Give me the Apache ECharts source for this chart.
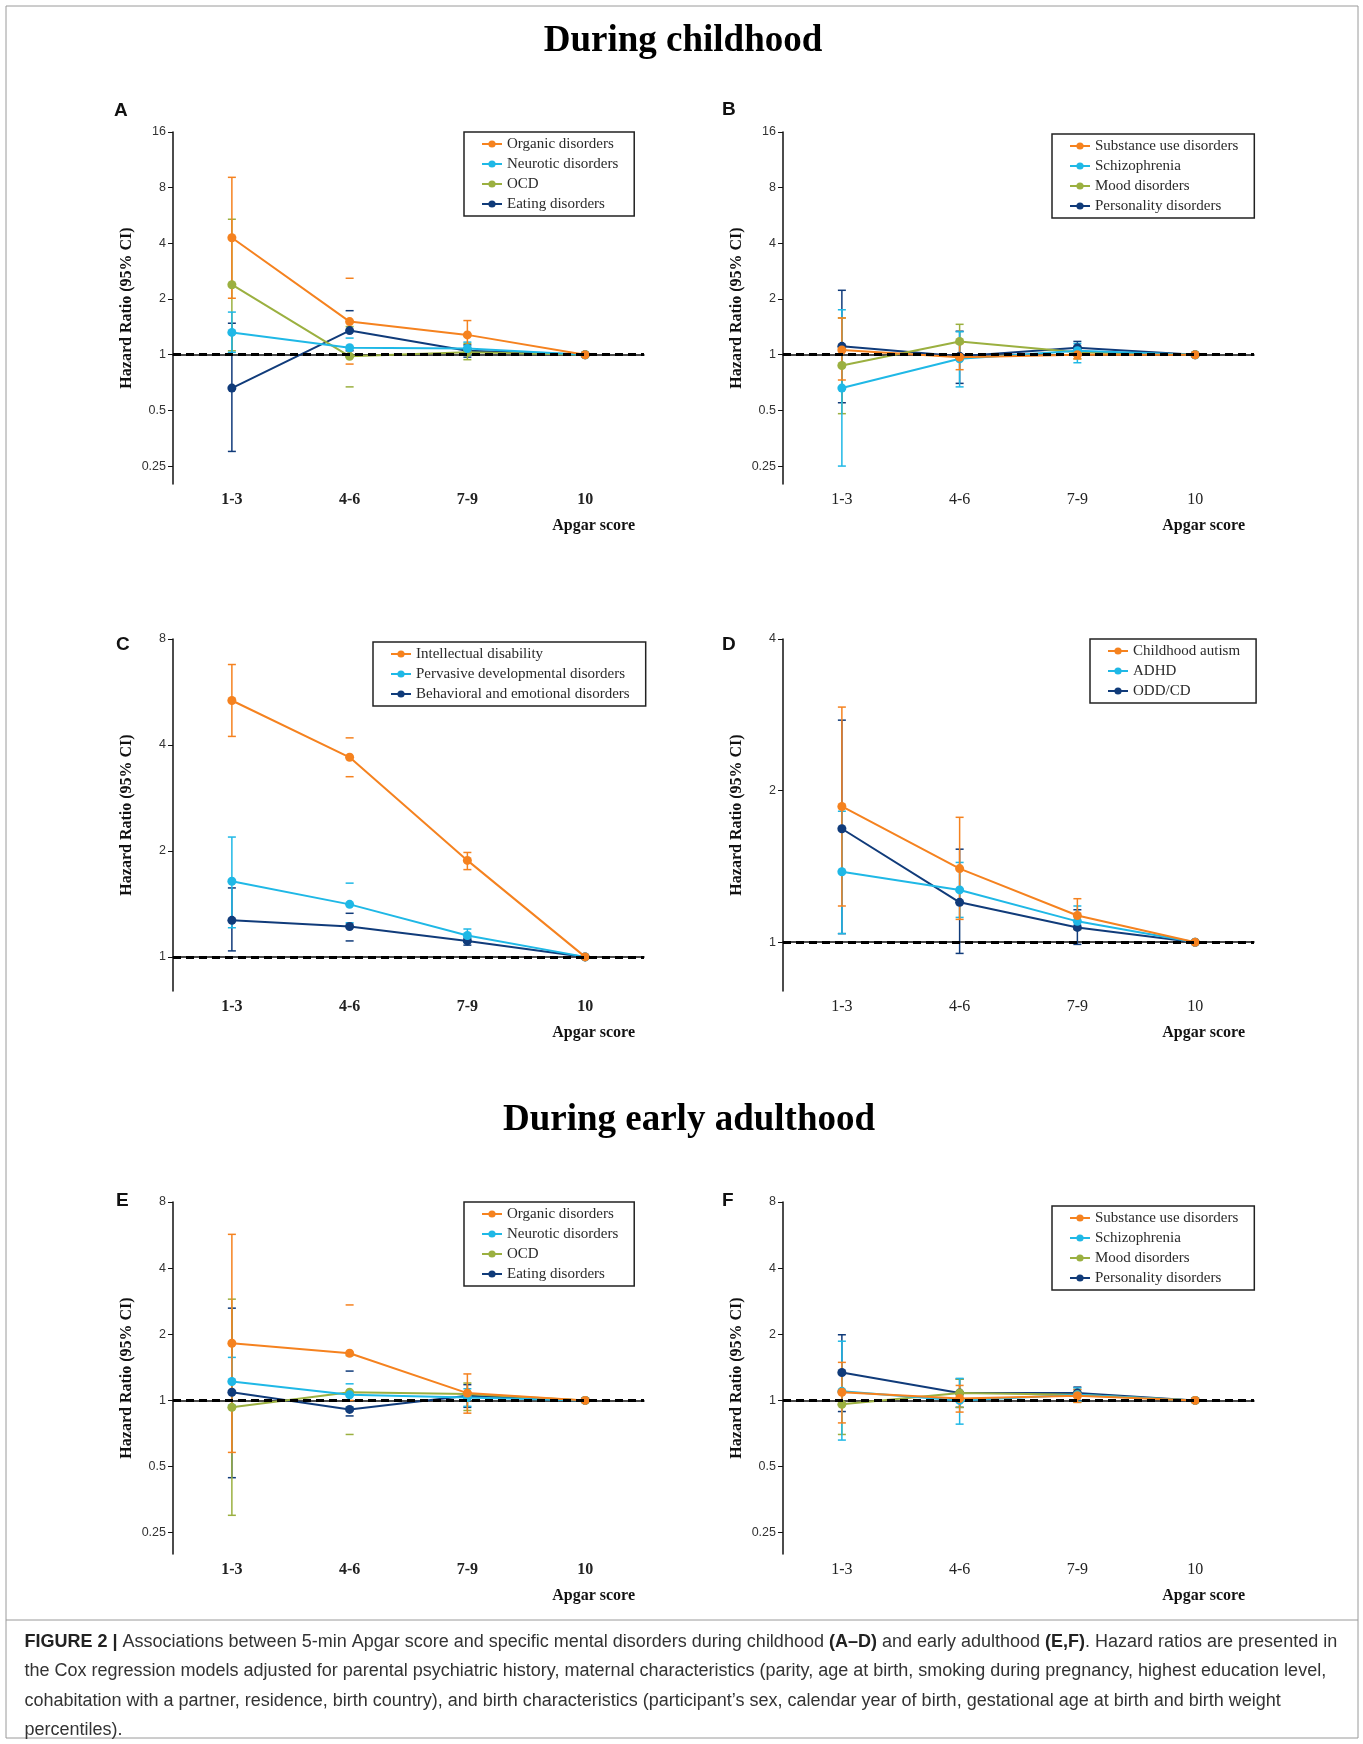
<!DOCTYPE html>
<html><head><meta charset="utf-8">
<script src="https://cdn.jsdelivr.net/npm/echarts@6/dist/echarts.min.js"></script>
<style>html,body{margin:0;padding:0;background:#fff}#c{width:1363px;height:1744px}</style>
</head><body><div id="c"></div>
<script>
// ---------- DATA ----------
const categories = ['1-3', '4-6', '7-9', '10'];

const yTicksAB = [0.25, 0.5, 1, 2, 4, 8, 16];
const yTicksC = [1, 2, 4, 8];
const yTicksD = [1, 2, 4];
const yTicksEF = [0.25, 0.5, 1, 2, 4, 8];

// Panel A (childhood)
const A_names = ['Organic disorders', 'Neurotic disorders', 'OCD', 'Eating disorders'];
const A_hr = [[4.29, 1.51, 1.28, 1], [1.32, 1.09, 1.08, 1], [2.39, 0.98, 1.03, 1], [0.66, 1.35, 1.05, 1]];
const A_lo = [[2.02, 0.89, 1.07, null], [1.03, 0.97, 1.00, null], [1.05, 0.67, 0.94, null], [0.30, 1.05, 0.97, null]];
const A_hi = [[9.1, 2.59, 1.53, null], [1.70, 1.23, 1.17, null], [5.4, 1.42, 1.15, null], [1.48, 1.73, 1.13, null]];

// Panel B (childhood)
const B_names = ['Substance use disorders', 'Schizophrenia', 'Mood disorders', 'Personality disorders'];
const B_hr = [[1.06, 0.97, 1.00, 1], [0.66, 0.95, 1.05, 1], [0.875, 1.18, 1.03, 1], [1.11, 0.98, 1.09, 1]];
const B_lo = [[0.73, 0.83, 0.95, null], [0.25, 0.67, 0.905, null], [0.48, 0.95, 0.95, null], [0.55, 0.70, 1.0, null]];
const B_hi = [[1.58, 1.15, 1.06, null], [1.75, 1.33, 1.15, null], [1.58, 1.46, 1.10, null], [2.23, 1.34, 1.18, null]];

// Panel C (childhood)
const C_names = ['Intellectual disability', 'Pervasive developmental disorders', 'Behavioral and emotional disorders'];
const C_hr = [[5.35, 3.69, 1.88, 1], [1.64, 1.41, 1.15, 1], [1.27, 1.22, 1.11, 1]];
const C_lo = [[4.23, 3.25, 1.77, null], [1.21, 1.25, 1.10, null], [1.04, 1.11, 1.08, null]];
const C_hi = [[6.77, 4.19, 1.98, null], [2.19, 1.62, 1.20, null], [1.57, 1.33, 1.13, null]];

// Panel D (childhood)
const D_names = ['Childhood autism', 'ADHD', 'ODD/CD'];
const D_hr = [[1.86, 1.40, 1.13, 1], [1.38, 1.27, 1.10, 1], [1.68, 1.20, 1.07, 1]];
const D_lo = [[1.18, 1.11, 1.06, null], [1.04, 1.12, 1.06, null], [1.04, 0.95, 0.99, null]];
const D_hi = [[2.93, 1.77, 1.22, null], [1.82, 1.44, 1.18, null], [2.76, 1.53, 1.16, null]];

// Panel E (early adulthood)
const E_names = ['Organic disorders', 'Neurotic disorders', 'OCD', 'Eating disorders'];
const E_hr = [[1.82, 1.64, 1.08, 1], [1.22, 1.06, 1.03, 1], [0.93, 1.09, 1.07, 1], [1.09, 0.91, 1.05, 1]];
const E_lo = [[0.58, 1.0, 0.875, null], [0.95, 0.93, 0.94, null], [0.30, 0.70, 0.90, null], [0.445, 0.85, 0.93, null]];
const E_hi = [[5.70, 2.72, 1.32, null], [1.57, 1.19, 1.13, null], [2.89, 1.6, 1.2, null], [2.63, 1.36, 1.18, null]];

// Panel F (early adulthood)
const F_names = ['Substance use disorders', 'Schizophrenia', 'Mood disorders', 'Personality disorders'];
const F_hr = [[1.09, 1.02, 1.05, 1], [1.10, 1.0, 1.06, 1], [0.96, 1.08, 1.06, 1], [1.34, 1.08, 1.08, 1]];
const F_lo = [[0.79, 0.885, 0.98, null], [0.66, 0.78, 0.99, null], [0.70, 0.93, 0.98, null], [0.89, 0.93, 1.0, null]];
const F_hi = [[1.49, 1.17, 1.12, null], [1.86, 1.26, 1.14, null], [1.32, 1.25, 1.12, null], [1.99, 1.25, 1.15, null]];

// ---------- STYLE / LAYOUT ----------
const ORANGE = '#F5821F', CYAN = '#1FB8E6', GREEN = '#9BB040', NAVY = '#103B7A';
const colors4 = [ORANGE, CYAN, GREEN, NAVY];
const colors3 = [ORANGE, CYAN, NAVY];
const L2 = v => Math.log2(v);
const fmt = v => String(Math.round(Math.pow(2, v) * 1000) / 1000);

const panels = [
  {key: 'A', names: A_names, hr: A_hr, lo: A_lo, hi: A_hi, colors: colors4, ticks: yTicksAB, min: 0.2, max: 16,
   grid: {left: 173, top: 132, width: 471, height: 352}, legend: {left: 464, top: 132}, letter: [114, 111], leftCol: true},
  {key: 'B', names: B_names, hr: B_hr, lo: B_lo, hi: B_hi, colors: colors4, ticks: yTicksAB, min: 0.2, max: 16,
   grid: {left: 783, top: 132, width: 471, height: 352}, legend: {left: 1052, top: 134}, letter: [722, 110], leftCol: false},
  {key: 'C', names: C_names, hr: C_hr, lo: C_lo, hi: C_hi, colors: colors3, ticks: yTicksC, min: 0.8, max: 8,
   grid: {left: 173, top: 639, width: 471, height: 352}, legend: {left: 373, top: 642}, letter: [116, 645], leftCol: true},
  {key: 'D', names: D_names, hr: D_hr, lo: D_lo, hi: D_hi, colors: colors3, ticks: yTicksD, min: 0.8, max: 4,
   grid: {left: 783, top: 639, width: 471, height: 352}, legend: {left: 1090, top: 639}, letter: [722, 645], leftCol: false},
  {key: 'E', names: E_names, hr: E_hr, lo: E_lo, hi: E_hi, colors: colors4, ticks: yTicksEF, min: 0.2, max: 8,
   grid: {left: 173, top: 1202, width: 471, height: 352}, legend: {left: 464, top: 1202}, letter: [116, 1201], leftCol: true},
  {key: 'F', names: F_names, hr: F_hr, lo: F_lo, hi: F_hi, colors: colors4, ticks: yTicksEF, min: 0.2, max: 8,
   grid: {left: 783, top: 1202, width: 471, height: 352}, legend: {left: 1052, top: 1206}, letter: [722, 1201], leftCol: false}
];

const grids = [], xAxes = [], yAxes = [], legends = [], series = [], graphics = [];

panels.forEach((p, pi) => {
  grids.push(Object.assign({containLabel: false, outerBoundsMode: 'none'}, p.grid));
  xAxes.push({
    type: 'category', gridIndex: pi, data: categories, boundaryGap: true,
    axisLine: {lineStyle: {color: '#111', width: 1.5}},
    axisTick: {alignWithLabel: true, length: 5, lineStyle: {color: '#111'}},
    axisLabel: {fontFamily: 'Liberation Serif', fontSize: 16, fontWeight: p.leftCol ? 'bold' : 'normal', color: '#222', margin: 8},
    splitLine: {show: false}
  });
  const tv = p.ticks.map(L2);
  yAxes.push({
    type: 'value', gridIndex: pi, min: L2(p.min), max: L2(p.max),
    axisLine: {show: true, lineStyle: {color: '#111', width: 1.5}},
    axisTick: {show: true, length: 5, customValues: tv, lineStyle: {color: '#111'}},
    axisLabel: {customValues: tv, formatter: fmt, fontFamily: 'Liberation Sans', fontSize: 12.5, color: '#333', margin: 7},
    splitLine: {show: false},
    name: 'Hazard Ratio (95% CI)', nameLocation: 'middle', nameRotate: 90, nameGap: 38,
    nameTextStyle: {fontFamily: 'Liberation Serif', fontWeight: 'bold', fontSize: 16, color: '#111'}
  });
  legends.push({
    data: p.names, left: p.legend.left, top: p.legend.top, orient: 'vertical',
    itemWidth: 20, itemHeight: 9, itemGap: 4, itemTextGap: 11, padding: [4, 16, 4, 17],
    borderColor: '#222', borderWidth: 1.5, backgroundColor: '#fff', selectedMode: false,
    textStyle: {fontFamily: 'Liberation Serif', fontSize: 15, color: '#2a2a2a', lineHeight: 16}
  });
  const hideStem = p.leftCol ? [1] : [];
  const n = p.names.length;
  // error bars drawn in reverse order so the first series sits on top
  for (let i = n - 1; i >= 0; i--) {
    const col = p.colors[i];
    const ebData = [];
    categories.forEach((c, k) => {
      if (p.lo[i][k] != null && p.hi[i][k] != null) ebData.push([k, L2(p.lo[i][k]), L2(p.hi[i][k])]);
    });
    series.push({
      type: 'custom', name: p.key + '-eb-' + i, xAxisIndex: pi, yAxisIndex: pi, z: 2 + (n - i) * 0.01,
      silent: true, encode: {x: 0, y: [1, 2]}, data: ebData,
      renderItem: (params, api) => {
        const x = api.value(0);
        const lo = api.coord([x, api.value(1)]);
        const hi = api.coord([x, api.value(2)]);
        const hw = 4;
        const st = {stroke: col, lineWidth: 1.5};
        const ch = [
          {type: 'line', shape: {x1: hi[0] - hw, y1: hi[1], x2: hi[0] + hw, y2: hi[1]}, style: st},
          {type: 'line', shape: {x1: lo[0] - hw, y1: lo[1], x2: lo[0] + hw, y2: lo[1]}, style: st}
        ];
        if (hideStem.indexOf(x) < 0) ch.push({type: 'line', shape: {x1: lo[0], y1: lo[1], x2: hi[0], y2: hi[1]}, style: st});
        return {type: 'group', children: ch};
      }
    });
  }
  for (let i = n - 1; i >= 0; i--) {
    const s = {
      type: 'line', name: p.names[i], xAxisIndex: pi, yAxisIndex: pi, z: 3 + (n - i) * 0.01,
      data: p.hr[i].map(L2), color: p.colors[i], symbol: 'circle', symbolSize: 9, showSymbol: true,
      lineStyle: {width: 2, color: p.colors[i]}, itemStyle: {color: p.colors[i]}, silent: true
    };
    if (i === 0) {
      s.markLine = {
        silent: true, symbol: ['none', 'none'], label: {show: false}, animation: false,
        lineStyle: {color: '#000', type: [8, 5], width: 3}, data: [{yAxis: 0}]
      };
    }
    series.push(s);
  }
  // panel letter
  graphics.push({type: 'text', x: p.letter[0], y: p.letter[1],
    style: {text: p.key, fontFamily: 'Liberation Sans', fontWeight: 'bold', fontSize: 19, fill: '#111', align: 'left', verticalAlign: 'middle'}});
  // x-axis title
  graphics.push({type: 'text', x: p.grid.left + p.grid.width - 9, y: p.grid.top + p.grid.height + 41.5,
    style: {text: 'Apgar score', fontFamily: 'Liberation Serif', fontWeight: 'bold', fontSize: 16, fill: '#111', align: 'right', verticalAlign: 'middle'}});
});

// frame, separator and section titles
graphics.push({type: 'rect', shape: {x: 6, y: 6, width: 1352, height: 1732}, style: {fill: null, stroke: '#9a9a9a', lineWidth: 1}, z: -1});
graphics.push({type: 'line', shape: {x1: 6, y1: 1620, x2: 1358, y2: 1620}, style: {stroke: '#9a9a9a', lineWidth: 1}});
graphics.push({type: 'text', x: 683, y: 41, style: {text: 'During childhood', fontFamily: 'Liberation Serif', fontWeight: 'bold', fontSize: 37, fill: '#000', align: 'center', verticalAlign: 'middle'}});
graphics.push({type: 'text', x: 689, y: 1120, style: {text: 'During early adulthood', fontFamily: 'Liberation Serif', fontWeight: 'bold', fontSize: 37, fill: '#000', align: 'center', verticalAlign: 'middle'}});

// caption
const captionLines = [
  '{b|FIGURE 2 |} Associations between 5-min Apgar score and specific mental disorders during childhood {b|(A–D)} and early adulthood {b|(E,F)}. Hazard ratios are presented in',
  'the Cox regression models adjusted for parental psychiatric history, maternal characteristics (parity, age at birth, smoking during pregnancy, highest education level,',
  'cohabitation with a partner, residence, birth country), and birth characteristics (participant’s sex, calendar year of birth, gestational age at birth and birth weight',
  'percentiles).'
];
const captionY = [1642, 1671.5, 1701, 1730];
captionLines.forEach((t, i) => {
  graphics.push({type: 'text', x: 24.5, y: captionY[i], style: {
    text: t, fontFamily: 'Liberation Sans', fontSize: 18, fill: '#333', align: 'left', verticalAlign: 'middle',
    rich: {b: {fontFamily: 'Liberation Sans', fontSize: 18, fontWeight: 'bold', fill: '#222'}}
  }});
});

const chart = echarts.init(document.getElementById('c'), null, {renderer: 'canvas'});
chart.setOption({
  animation: false,
  backgroundColor: '#fff',
  grid: grids, xAxis: xAxes, yAxis: yAxes, legend: legends, series: series,
  graphic: {elements: graphics}
});
</script></body></html>
